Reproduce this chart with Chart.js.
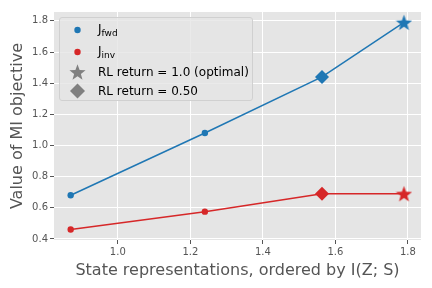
<!DOCTYPE html>
<html>
<head>
<meta charset="utf-8">
<script src="https://cdn.jsdelivr.net/npm/chart.js@4"></script>
<style>
  html, body { margin: 0; padding: 0; background: #fff; }
  #wrap { position: relative; width: 432px; height: 288px; }
  #legend {
    position: absolute; left: 59px; top: 17px; width: 194px; height: 84px;
    background: rgba(229,229,229,0.8); border: 1px solid #d0d0d0; border-radius: 3px;
    box-sizing: border-box; font-family: "DejaVu Sans", sans-serif; font-size: 12px; color: #000;
  }
  .row { position: absolute; left: 0; height: 20px; display: flex; align-items: center; }
  .row svg { width: 36px; height: 20px; }
  .row span { margin-left: 2px; white-space: nowrap; }
  sub { font-size: 9px; vertical-align: -3px; }
</style>
</head>
<body>
<div id="wrap">
  <canvas id="c" width="432" height="288"></canvas>
  <div id="legend"></div>
</div>
<script>
// data
const xValues = [0.87, 1.24, 1.563, 1.789];
const fwdValues = [0.68, 1.08, 1.44, 1.79];
const invValues = [0.46, 0.575, 0.69, 0.69];
const xTicks = [1.0, 1.2, 1.4, 1.6, 1.8];
const yTicks = [0.4, 0.6, 0.8, 1.0, 1.2, 1.4, 1.6, 1.8];

const BLUE = '#1f77b4';
const RED = '#d62728';

function starPoints(cx, cy, R, r) {
  const pts = [];
  for (let i = 0; i < 10; i++) {
    const a = -Math.PI / 2 + i * Math.PI / 5;
    const rad = i % 2 === 0 ? R : r;
    pts.push([cx + rad * Math.cos(a), cy + rad * Math.sin(a)]);
  }
  return pts;
}

function makeStar(color, size) {
  const cv = document.createElement('canvas');
  cv.width = size; cv.height = size;
  const g = cv.getContext('2d');
  const pts = starPoints(size / 2, size / 2 + 0.8, size / 2, size / 2 * 0.42);
  g.beginPath();
  pts.forEach((p, i) => i ? g.lineTo(p[0], p[1]) : g.moveTo(p[0], p[1]));
  g.closePath();
  g.fillStyle = color;
  g.fill();
  return cv;
}

const blueStar = makeStar(BLUE, 17);
const redStar = makeStar(RED, 17);

const bgPlugin = {
  id: 'bg',
  beforeDraw(chart) {
    const a = chart.chartArea, ctx = chart.ctx;
    ctx.save();
    ctx.fillStyle = '#e5e5e5';
    ctx.fillRect(a.left, a.top, a.right - a.left, a.bottom - a.top);
    ctx.restore();
  }
};

const tickFont = { family: 'DejaVu Sans', size: 10 };
const titleFont = { family: 'DejaVu Sans', size: 16 };

new Chart(document.getElementById('c'), {
  type: 'line',
  data: {
    datasets: [
      {
        data: xValues.map((x, i) => ({ x: x, y: fwdValues[i] })),
        borderColor: BLUE, backgroundColor: BLUE, borderWidth: 1.5,
        pointStyle: ['circle', 'circle', 'rectRot', blueStar],
        pointRadius: [3.2, 3.2, 7, 9], pointBorderWidth: 0
      },
      {
        data: xValues.map((x, i) => ({ x: x, y: invValues[i] })),
        borderColor: RED, backgroundColor: RED, borderWidth: 1.5,
        pointStyle: ['circle', 'circle', 'rectRot', redStar],
        pointRadius: [3.2, 3.2, 7, 9], pointBorderWidth: 0
      }
    ]
  },
  options: {
    responsive: false,
    animation: false,
    layout: { padding: { top: 12, right: 11, left: 0, bottom: 0 } },
    plugins: { legend: { display: false }, tooltip: { enabled: false } },
    scales: {
      x: {
        type: 'linear', min: 0.824, max: 1.836,
        afterFit(s) { s.height = 48; },
        afterBuildTicks(s) { s.ticks = xTicks.map(v => ({ value: v })); },
        border: { display: false },
        grid: { color: '#fff', lineWidth: 1, tickColor: '#555', tickLength: 4 },
        ticks: { color: '#555', font: tickFont, padding: 2, maxRotation: 0, callback: v => v.toFixed(1) },
        title: { display: true, text: 'State representations, ordered by I(Z; S)', color: '#555', font: titleFont, padding: { top: 0, bottom: 8 } }
      },
      y: {
        min: 0.393, max: 1.857,
        afterFit(s) { s.width = 54; },
        afterBuildTicks(s) { s.ticks = yTicks.map(v => ({ value: v })); },
        border: { display: false },
        grid: { color: '#fff', lineWidth: 1, tickColor: '#555', tickLength: 4 },
        ticks: { color: '#555', font: tickFont, padding: 2, callback: v => v.toFixed(1) },
        title: { display: true, text: 'Value of MI objective', color: '#555', font: titleFont, padding: { top: 8, bottom: 0 } }
      }
    }
  },
  plugins: [bgPlugin]
});

// legend with subscripts
function dot(color) {
  return `<svg viewBox="0 0 36 20"><circle cx="17.5" cy="10" r="3.2" fill="${color}"/></svg>`;
}
function star() {
  const p = starPoints(17.5, 10.8, 8.5, 8.5 * 0.42).map(q => q.join(',')).join(' ');
  return `<svg viewBox="0 0 36 20"><polygon points="${p}" fill="#808080"/></svg>`;
}
function diamond() {
  return `<svg viewBox="0 0 36 20"><polygon points="17.5,2.5 25,10 17.5,17.5 10,10" fill="#808080"/></svg>`;
}
const legendRows = [
  { icon: dot(BLUE), html: 'J<sub>fwd</sub>', top: 2 },
  { icon: dot(RED), html: 'J<sub>inv</sub>', top: 24 },
  { icon: star(), html: 'RL return = 1.0 (optimal)', top: 44 },
  { icon: diamond(), html: 'RL return = 0.50', top: 63 }
];
document.getElementById('legend').innerHTML = legendRows.map(r =>
  `<div class="row" style="top:${r.top}px">${r.icon}<span>${r.html}</span></div>`).join('');
</script>
</body>
</html>
